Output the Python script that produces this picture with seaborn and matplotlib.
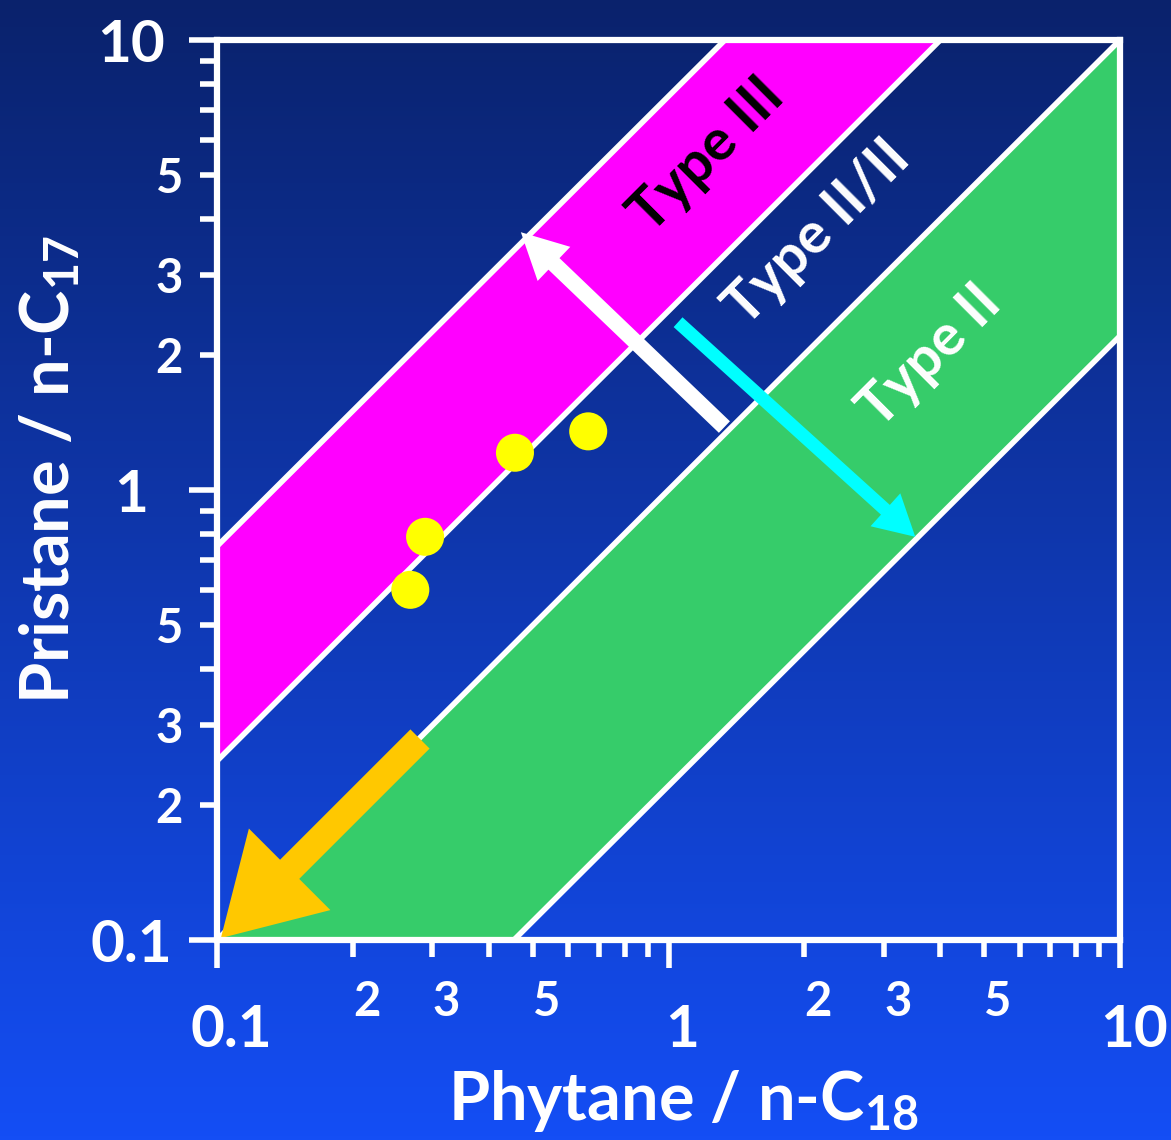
import numpy as np
import matplotlib
matplotlib.use("Agg")
import matplotlib.pyplot as plt
import seaborn as sns
from matplotlib.colors import LinearSegmentedColormap
from matplotlib.patches import FancyArrowPatch, ArrowStyle
from matplotlib.transforms import ScaledTranslation

# data
sample_x = [0.268, 0.289, 0.457, 0.664]   # Phytane / n-C18
sample_y = [0.600, 0.787, 1.21, 1.35]     # Pristane / n-C17

# band boundaries, as Pr/n-C17 = ratio * Ph/n-C18
type3_band = [2.5, 7.5]
type2_band = [0.22, 1.0]
boundary_ratios = [7.5, 2.5, 1.0, 0.22]

band_labels = ["Type III", "Type II/II", "Type II"]
band_label_x = [1.22, 2.14, 3.79]
band_label_y = [5.55, 3.73, 1.98]
band_label_colors = ["black", "white", "white"]

# arrows: (tail x, tail y) -> (head x, head y)
arrow_tails = [(1.33, 1.38), (1.05, 2.36), (0.2816, 0.2797)]
arrow_heads = [(0.471, 3.74), (3.52, 0.787), (0.102, 0.101)]
arrow_colors = ["white", "#00ffff", "#ffc800"]

major_ticks = [0.1, 1, 10]
major_labels = ["0.1", "1", "10"]
minor_ticks = [m * d for d in (0.1, 1) for m in range(2, 10)]
minor_labels = [str(m) if m in (2, 3, 5) else "" for d in (0.1, 1) for m in range(2, 10)]

sns.set_style("ticks")
plt.rcParams["font.family"] = ["Lato", "DejaVu Sans"]
plt.rcParams["font.weight"] = "bold"
plt.rcParams["mathtext.fontset"] = "custom"
plt.rcParams["mathtext.rm"] = "Lato:bold"
plt.rcParams["mathtext.it"] = "Lato:bold"
plt.rcParams["mathtext.bf"] = "Lato:bold"
plt.rcParams["mathtext.default"] = "rm"

W, H = 1171, 1140
fig = plt.figure(figsize=(W / 100, H / 100), dpi=100)

# gradient background
bg = fig.add_axes([0, 0, 1, 1], zorder=-1)
grad = np.linspace(0, 1, 256).reshape(-1, 1)
cmap = LinearSegmentedColormap.from_list("bg", ["#0a226c", "#144ef5"])
bg.imshow(grad, aspect="auto", cmap=cmap, extent=[0, 1, 0, 1], origin="upper")
bg.axis("off")

ax = fig.add_axes([217 / W, 1 - 940 / H, 903 / W, 900 / H])
ax.patch.set_alpha(0)
ax.set_xscale("log")
ax.set_yscale("log")

x_grid = np.logspace(-2, 2, 50)
ax.fill_between(x_grid, type3_band[0] * x_grid, type3_band[1] * x_grid,
                color="#ff00ff", lw=0, zorder=1)
ax.fill_between(x_grid, type2_band[0] * x_grid, type2_band[1] * x_grid,
                color="#36cc6a", lw=0, zorder=1)
for r in boundary_ratios:
    sns.lineplot(x=x_grid, y=r * x_grid, ax=ax, color="white", lw=4, zorder=2)

sns.scatterplot(x=sample_x, y=sample_y, ax=ax, s=750, color="#ffff00",
                edgecolor="none", zorder=5, legend=False)

# arrows
arrow_shapes = [
    ArrowStyle.Simple(head_length=33, head_width=34, tail_width=11.5),
    ArrowStyle.Simple(head_length=29, head_width=32, tail_width=9.5),
    ArrowStyle.Simple(head_length=70, head_width=83, tail_width=19.5),
]
for tail, head, col, st in zip(arrow_tails, arrow_heads, arrow_colors, arrow_shapes):
    ax.add_patch(FancyArrowPatch(tail, head, arrowstyle=st, mutation_scale=1,
                                 color=col, lw=0, shrinkA=0, shrinkB=0, zorder=6))

for lbl, lx, ly, c in zip(band_labels, band_label_x, band_label_y, band_label_colors):
    ax.text(lx, ly, lbl, color=c, fontsize=41, fontweight="bold", rotation=45,
            rotation_mode="anchor", ha="center", va="center", zorder=7)

ax.set_xlim(0.1, 10)
ax.set_ylim(0.1, 10)
for axis in (ax.xaxis, ax.yaxis):
    axis.set_major_locator(matplotlib.ticker.FixedLocator(major_ticks))
    axis.set_major_formatter(matplotlib.ticker.FixedFormatter(major_labels))
    axis.set_minor_locator(matplotlib.ticker.FixedLocator(minor_ticks))
    axis.set_minor_formatter(matplotlib.ticker.FixedFormatter(minor_labels))

for s in ax.spines.values():
    s.set_color("white")
    s.set_linewidth(4.5)
    s.set_zorder(10)

ax.tick_params(which="both", direction="out", color="white", labelcolor="white", width=4)
ax.tick_params(which="major", length=20, labelsize=42)
ax.tick_params(which="minor", length=12.5, labelsize=34)
ax.tick_params(axis="x", which="major", pad=26)
ax.tick_params(axis="x", which="minor", pad=16)
ax.tick_params(axis="y", which="major", pad=42)
ax.tick_params(axis="y", which="minor", pad=12)

ax.set_xlabel("Phytane / n-C$_{18}$", fontsize=48, color="white", fontweight="bold")
ax.set_ylabel("Pristane / n-C$_{17}$", fontsize=48, color="white", fontweight="bold")
ax.xaxis.set_label_coords(0.516, -0.142)
ax.yaxis.set_label_coords(-0.15, 0.523)

fig.canvas.draw()
shift = ScaledTranslation(14 / 100, 0, fig.dpi_scale_trans)
for t in ax.xaxis.get_major_ticks() + ax.xaxis.get_minor_ticks():
    t.label1.set_transform(t.label1.get_transform() + shift)
for t in ax.yaxis.get_major_ticks():
    t.label1.set_horizontalalignment("center")

fig.savefig("out.png", dpi=100)
